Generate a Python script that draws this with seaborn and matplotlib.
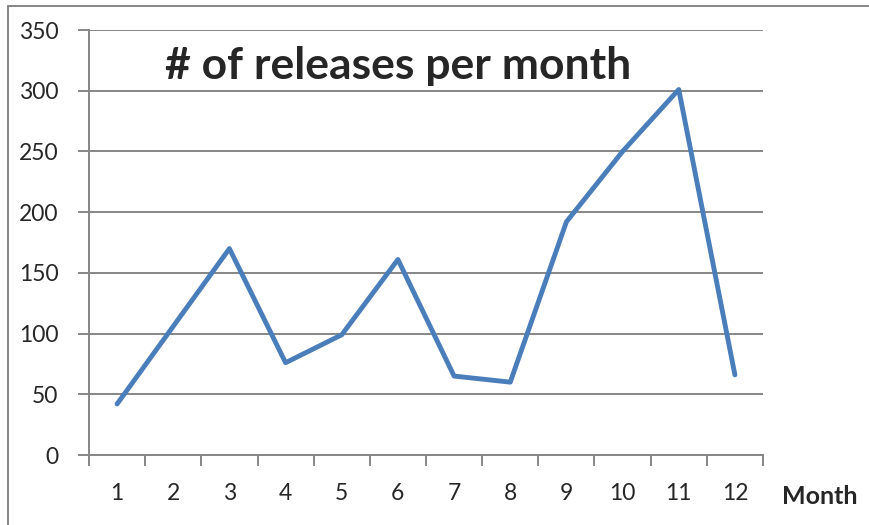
import numpy as np
import pandas as pd
import matplotlib
matplotlib.use("Agg")
import matplotlib.pyplot as plt
import seaborn as sns
from matplotlib.lines import Line2D

months = [1, 2, 3, 4, 5, 6, 7, 8, 9, 10, 11, 12]
releases = [42, 106, 170, 76, 99, 161, 65, 60, 192, 250, 301, 66]
y_ticks = [0, 50, 100, 150, 200, 250, 300, 350]

df = pd.DataFrame({"month": months, "releases": releases})

sns.set_style("white")
plt.rcParams["font.family"] = ["Lato", "DejaVu Sans"]

grey = "#868686"
fig = plt.figure(figsize=(8.69, 5.25), dpi=100)
ax = fig.add_axes([89 / 869, 1 - 455 / 525, (763 - 89) / 869, (455 - 30) / 525])

sns.lineplot(data=df, x="month", y="releases", ax=ax, color="#4a7ebb", linewidth=3.5, zorder=3)

ax.set_xlim(0.5, 12.5)
ax.set_ylim(0, 350)
ax.set_yticks(y_ticks)
ax.set_xticks(months)
ax.set_xticks(np.arange(0.5, 13, 1), minor=True)
ax.grid(axis="y", color=grey, linewidth=1.4)
ax.grid(axis="x", visible=False)

for side in ["top", "right"]:
    ax.spines[side].set_visible(False)
for side in ["left", "bottom"]:
    ax.spines[side].set_color(grey)
    ax.spines[side].set_linewidth(1.4)

ax.tick_params(axis="y", which="major", direction="out", length=8, width=1.4, color=grey,
               labelsize=16.5, pad=14, left=True)
ax.tick_params(axis="x", which="major", length=0, labelsize=16.5, pad=20)
ax.tick_params(axis="x", which="minor", direction="out", length=8, width=1.4, color=grey, bottom=True)

ax.set_xlabel("")
ax.set_ylabel("")

ax.text(0.458, 0.915, "# of releases per month", transform=ax.transAxes, ha="center", va="center",
        fontsize=32, fontweight="bold")
fig.text(820 / 869, 1 - 497 / 525, "Month", ha="center", va="center", fontsize=18, fontweight="bold")

# outer chart frame
fig.add_artist(Line2D([8 / 869, 8 / 869], [0, 1 - 6 / 525], transform=fig.transFigure, color=grey, linewidth=1.4))
fig.add_artist(Line2D([8 / 869, 1], [1 - 6 / 525, 1 - 6 / 525], transform=fig.transFigure, color=grey, linewidth=1.4))

fig.savefig("out.png", dpi=100)
